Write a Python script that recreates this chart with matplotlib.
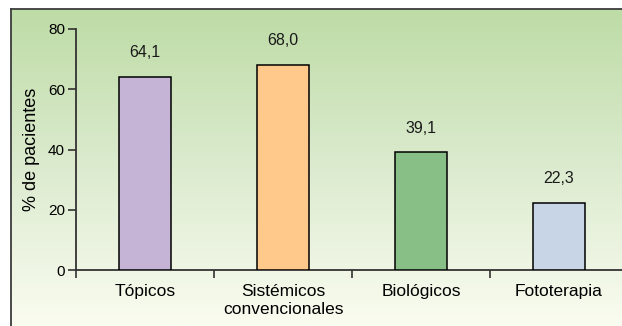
import numpy as np
import matplotlib
matplotlib.use('Agg')
import matplotlib.pyplot as plt
from matplotlib.colors import LinearSegmentedColormap

# datos
categorias = ['Tópicos', 'Sistémicos\nconvencionales', 'Biológicos', 'Fototerapia']
porcentajes = [64.1, 68.0, 39.1, 22.3]
etiquetas = ['64,1', '68,0', '39,1', '22,3']
colores = ['#c6b4d7', '#fec98b', '#88bf87', '#c8d5e7']
yticks = [0, 20, 40, 60, 80]

plt.rcParams['font.family'] = ['Liberation Sans', 'DejaVu Sans']

W, H = 622, 326
fig = plt.figure(figsize=(W / 100, H / 100), dpi=100)
fig.patch.set_facecolor('white')

# fondo con degradado verde (solo bordes izquierdo y superior visibles)
bg = fig.add_axes([11 / W, 0, 1, 1 - 9 / H])
grad = np.linspace(0, 1, 256).reshape(-1, 1)
cmap = LinearSegmentedColormap.from_list('fondo', ['#bedca6', '#dcebcf', '#fafcf0'])
bg.imshow(grad, aspect='auto', cmap=cmap, extent=[0, 1, 0, 1], origin='upper')
bg.set_xlim(0, 1)
bg.set_ylim(0, 1)
bg.set_xticks([])
bg.set_yticks([])
for side in ['right', 'bottom']:
    bg.spines[side].set_visible(False)
for side in ['left', 'top']:
    bg.spines[side].set_color('#3c3c3c')
    bg.spines[side].set_linewidth(1.3)

ax = fig.add_axes([76 / W, (H - 270) / H, 552 / W, 241 / H])
ax.patch.set_alpha(0)
x = np.arange(len(categorias))
ax.bar(x, porcentajes, width=52 / 138, color=colores, edgecolor='black', linewidth=1.1, zorder=3)

for xi, v, t in zip(x, porcentajes, etiquetas):
    ax.annotate(t, (xi, v), xytext=(0, 12), textcoords='offset points',
                ha='center', va='bottom', fontsize=11.5, color='#1a1a1a')

ax.set_xlim(-0.5, 3.5)
ax.set_ylim(0, 80)
ax.set_yticks(yticks)
ax.set_yticklabels([str(v) for v in yticks], fontsize=11)
ax.set_xticks(x)
ax.set_xticklabels(categorias, fontsize=12.5, linespacing=1.25)
ax.set_xticks([-0.5, 0.5, 1.5, 2.5], minor=True)
ax.tick_params(axis='x', which='major', length=0, pad=10)
ax.tick_params(axis='x', which='minor', length=6, width=1.2, direction='out', color='#333333')
ax.tick_params(axis='y', length=6, width=1.2, direction='out', color='#333333', pad=2)
ax.set_ylabel('% de pacientes', fontsize=13, labelpad=6)

for side in ['top', 'right']:
    ax.spines[side].set_visible(False)
for side in ['left', 'bottom']:
    ax.spines[side].set_color('#333333')
    ax.spines[side].set_linewidth(1.3)

fig.savefig('out.png', dpi=100)
